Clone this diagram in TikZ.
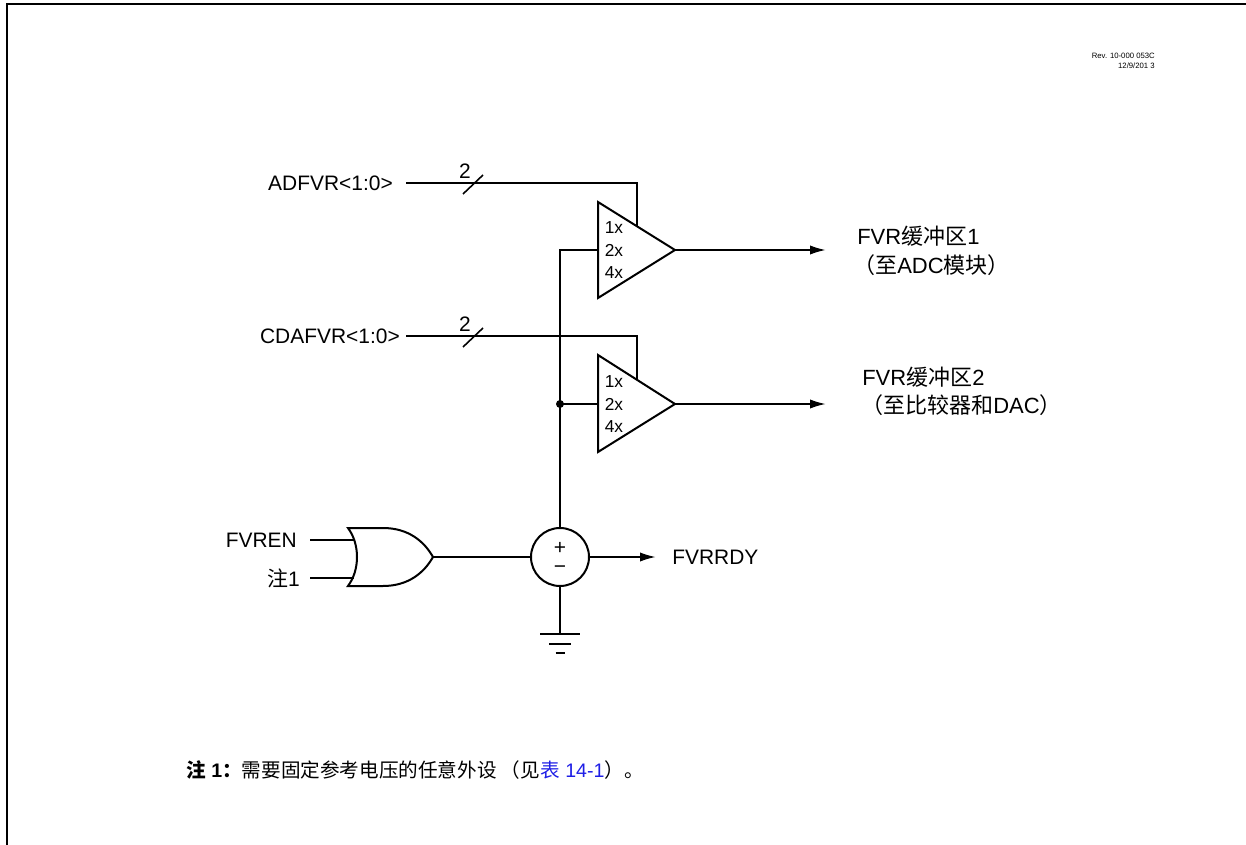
\documentclass[tikz,border=0pt]{standalone}
\usepackage{fontspec}
\usepackage{xcolor}
\setmainfont{Liberation Sans}
\newfontfamily\cjk{Noto Sans CJK SC}
\usetikzlibrary{arrows.meta,positioning,calc}
\definecolor{notelink}{RGB}{30,30,230}
\tikzset{
  wire/.style={line width=1.5pt, line join=miter},
  signal/.style={wire, -{Latex[length=12pt,width=7pt]}},
  label/.style={inner sep=0pt, font=\fontsize{15.7}{18}\selectfont},
  outlabel/.style={inner sep=0pt, anchor=west, font=\fontsize{16.5}{19}\selectfont},
  gain/.style={inner sep=0pt, font=\fontsize{13}{15}\selectfont},
  revlabel/.style={inner sep=0pt, anchor=east, font=\fontsize{5.8}{7}\selectfont},
}
\begin{document}
\begin{tikzpicture}[x=0.75pt, y=-0.75pt]
  \useasboundingbox (0,0) rectangle (1246,845);

  % Frame, open at the bottom and right
  \draw[line width=1.7pt] (7,850) -- (7,4.3) -- (1246,4.3);

  % Revision
  \node[revlabel] (rev) at (1155,56) {Rev. 10-000 053C};
  \node[revlabel] (revdate) at (1155,66) {12/9/201 3};

  % Buffer 1
  \coordinate (A1) at (598,202);
  \coordinate (A2) at (598,298);
  \coordinate (A3) at (675,250);
  \draw[wire] (A1) -- (A2) -- (A3) -- cycle;
  \node[gain] (oneA) at (614,228) {1x};
  \node[gain] (twoA) at (614,250) {2x};
  \node[gain] (fourA) at (614,273) {4x};

  % Buffer 2
  \coordinate (B1) at (598,355);
  \coordinate (B2) at (598,452);
  \coordinate (B3) at (675,404);
  \draw[wire] (B1) -- (B2) -- (B3) -- cycle;
  \node[gain] (oneB) at (614,382) {1x};
  \node[gain] (twoB) at (614,404) {2x};
  \node[gain] (fourB) at (614,427) {4x};

  % Gain select
  \node[label, anchor=east] (adfvr) at (393,183) {ADFVR<1:0>};
  \node[label, anchor=east] (cdafvr) at (400,336) {CDAFVR<1:0>};
  \coordinate (adfvrin) at (406,183);
  \coordinate (cdafvrin) at (406,336);
  \coordinate (adfvrtop) at (637,183);
  \coordinate (cdafvrtop) at (637,336);
  \coordinate (adfvrend) at (637,226);
  \coordinate (cdafvrend) at (637,379);
  \draw[wire] (adfvrin) -- (adfvrtop) -- (adfvrend);
  \draw[wire] (cdafvrin) -- (cdafvrtop) -- (cdafvrend);
  \draw[line width=1.2pt] (463,194) -- (483,175);
  \draw[line width=1.2pt] (463,347) -- (483,328);
  \node[label] (busA) at (465,171) {2};
  \node[label] (busB) at (465,324) {2};

  % Reference
  \node[circle, draw, line width=1.5pt, minimum size=43.5pt, inner sep=0pt] (vref) at (560,557) {};
  \node[label] (plus) at (560,548) {+};
  \node[label] (minus) at (560,570) {\textminus};
  \coordinate (feed) at (560,250);
  \coordinate (tap) at (560,404);
  \draw[wire] (vref.north) -- (feed) -- (A1 |- feed);
  \draw[wire] (tap) -- (B1 |- tap);
  \fill (tap) circle (3pt);

  % Outputs
  \node[outlabel] (bufA) at (857,236) {FVR{\cjk 缓冲区}1};
  \node[outlabel] (bufAto) at (853,265) {{\cjk （至}ADC{\cjk 模块）}};
  \node[outlabel] (bufB) at (862,377) {FVR{\cjk 缓冲区}2};
  \node[outlabel] (bufBto) at (861,405) {{\cjk （至比较器和}DAC{\cjk ）}};
  \coordinate (outA) at (826,250);
  \coordinate (outB) at (826,404);
  \draw[signal] (A3) -- (outA);
  \draw[signal] (B3) -- (outB);
  \node[label, anchor=west] (fvrrdy) at (672,557) {FVRRDY};
  \coordinate (rdy) at (656,557);
  \draw[signal] (vref.east) -- (rdy);

  % Enable gate
  \coordinate (G1) at (348,528);
  \coordinate (G2) at (383,528);
  \coordinate (G3) at (433,557);
  \coordinate (G4) at (383,586);
  \coordinate (G5) at (348,586);
  \draw[wire] (G1) -- (G2) .. controls (408,528) and (424,541) .. (G3)
    .. controls (424,573) and (408,586) .. (G4) -- (G5)
    .. controls (360,570) and (360,544) .. (G1) -- cycle;
  \node[label, anchor=east] (fvren) at (297,540) {FVREN};
  \node[label, anchor=east] (noteref) at (300,578) {{\cjk 注}1};
  \coordinate (fvrenin) at (310,540);
  \coordinate (notein) at (310,578);
  \coordinate (fvrenend) at (353.5,540);
  \coordinate (noteend) at (353.5,578);
  \draw[wire] (fvrenin) -- (fvrenend);
  \draw[wire] (notein) -- (noteend);
  \draw[wire] (G3) -- (vref.west);

  % Ground
  \coordinate (gnd) at (560,634);
  \draw[wire] (vref.south) -- (gnd);
  \draw[wire] (540,634) -- (580,634);
  \draw[wire] (549,644) -- (571,644);
  \draw[wire] (555.5,653) -- (564.5,653);

  % Note
  \node[inner sep=0pt, anchor=west, font=\fontsize{14.7}{17}\selectfont] (note) at (186,770)
    {{\cjk\bfseries 注}\textbf{ 1}{\cjk\bfseries ：}{\cjk 需要固定参考电压的任意外设 （见}\textcolor{notelink}{{\cjk 表} 14-1}{\cjk ）。}};
\end{tikzpicture}
\end{document}
